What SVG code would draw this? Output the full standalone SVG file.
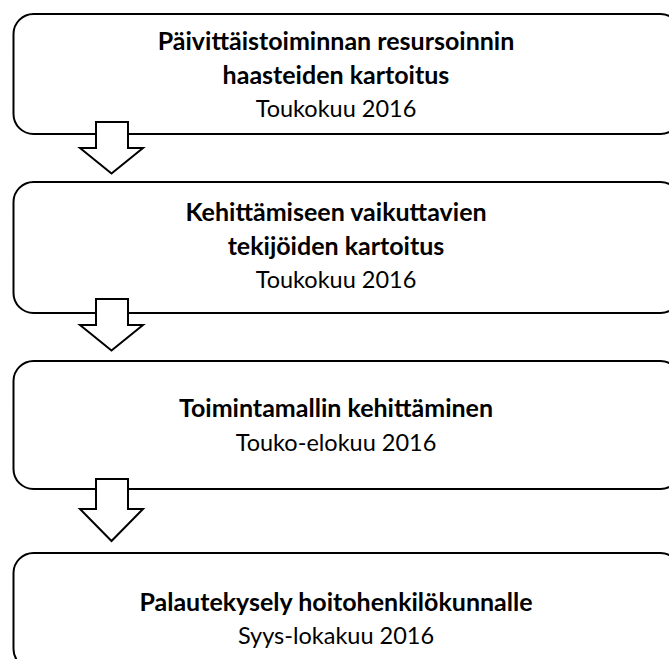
<svg xmlns="http://www.w3.org/2000/svg" width="669" height="659" viewBox="0 0 669 659">
  <style>
    .box { fill: #ffffff; stroke: #000000; stroke-width: 2; }
    .arrow { fill: #ffffff; stroke: #000000; stroke-width: 2; stroke-linejoin: miter; }
    text { font-family: Lato, "Open Sans", "Liberation Sans", sans-serif; font-size: 23.5px; fill: #000000; text-anchor: middle; }
    .title { font-weight: bold; font-size: 25px; }
  </style>
  <rect width="669" height="659" fill="#ffffff"/>

  <!-- process steps -->
  <g id="step1">
    <rect class="box" x="13.5" y="14" width="667" height="120" rx="20" ry="20"/>
    <text class="title" x="336" y="50">Päivittäistoiminnan resursoinnin</text>
    <text class="title" x="336" y="83.5">haasteiden kartoitus</text>
    <text x="336" y="117">Toukokuu 2016</text>
  </g>
  <g id="step2">
    <rect class="box" x="13.5" y="182" width="667" height="131" rx="20" ry="20"/>
    <text class="title" x="336" y="221">Kehittämiseen vaikuttavien</text>
    <text class="title" x="336" y="254.5">tekijöiden kartoitus</text>
    <text x="336" y="288">Toukokuu 2016</text>
  </g>
  <g id="step3">
    <rect class="box" x="13.5" y="361" width="667" height="128" rx="20" ry="20"/>
    <text class="title" x="336" y="417">Toimintamallin kehittäminen</text>
    <text x="336" y="450.5">Touko-elokuu 2016</text>
  </g>
  <g id="step4">
    <rect class="box" x="13.5" y="553" width="667" height="116" rx="20" ry="20"/>
    <text class="title" x="336" y="611">Palautekysely hoitohenkilökunnalle</text>
    <text x="336" y="644">Syys-lokakuu 2016</text>
  </g>

  <!-- hollow block arrows between steps -->
  <g id="connectors">
    <polygon class="arrow" points="96,122 128,122 128,148 143,148 111.5,173.5 80,148 96,148"/>
    <polygon class="arrow" points="96,299 128,299 128,325 143,325 111.5,350.5 80,325 96,325"/>
    <polygon class="arrow" points="96,479 128,479 128,509 143,509 111.5,541 80,509 96,509"/>
  </g>
</svg>
